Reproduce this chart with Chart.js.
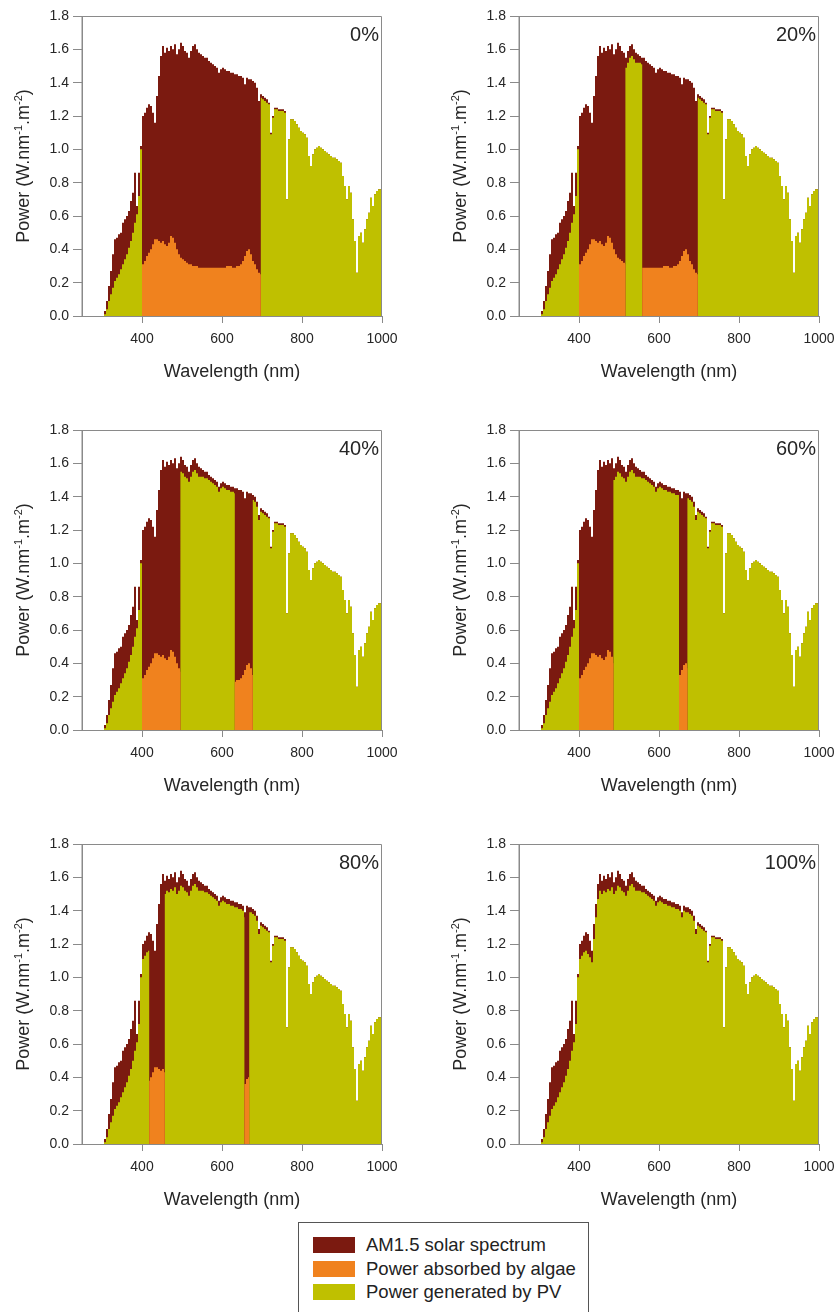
<!DOCTYPE html>
<html>
<head>
<meta charset="utf-8">
<script src="https://cdn.jsdelivr.net/npm/chart.js@4.4.1/dist/chart.umd.min.js"></script>
<style>
  html, body { margin: 0; padding: 0; background: #ffffff; }
  body { width: 837px; height: 1312px; position: relative; overflow: hidden; font-family: "Liberation Sans", Arial, sans-serif; }
  .panel { position: absolute; }
  #legend { position: absolute; left: 298px; top: 1222px; width: 289px; height: 110px; border: 1.5px solid #555; background: #fff; }
  .row { position: absolute; left: 14px; height: 16px; }
  .sw { position: absolute; left: 0; top: 0; width: 42px; height: 16px; }
  .lab { position: absolute; left: 53px; top: -3px; font-size: 18.5px; color: #222; white-space: nowrap; line-height: 22px; }
</style>
</head>
<body>
<div id="legend"></div>
<script>
// Wavelength grid (nm); each value holds from its wavelength up to the next one.
const wavelengths = [
  280, 285, 290, 295, 300, 305, 310, 315, 320, 325, 330, 335, 340, 345, 350, 355, 360, 365, 370, 375,
  380, 385, 390, 395, 400, 405, 410, 415, 420, 425, 430, 435, 440, 445, 450, 455, 460, 465, 470, 475,
  480, 485, 490, 495, 500, 505, 510, 515, 520, 525, 530, 535, 540, 545, 550, 555, 560, 565, 570, 575,
  580, 585, 590, 595, 600, 605, 610, 615, 620, 625, 630, 635, 640, 645, 650, 655, 660, 665, 670, 675,
  680, 685, 690, 695, 700, 705, 710, 715, 720, 725, 730, 735, 740, 745, 750, 755, 760, 765, 770, 775,
  780, 785, 790, 795, 800, 805, 810, 815, 820, 825, 830, 835, 840, 845, 850, 855, 860, 865, 870, 875,
  880, 885, 890, 895, 900, 905, 910, 915, 920, 925, 930, 935, 940, 945, 950, 955, 960, 965, 970, 975,
  980, 985, 990, 995, 1000
];

// AM1.5 solar spectrum (W.nm-1.m-2)
const am15 = [
  0.00, 0.00, 0.00, 0.00, 0.00, 0.03, 0.09, 0.18, 0.27, 0.37, 0.46, 0.47, 0.49, 0.50, 0.56, 0.58, 0.60, 0.63, 0.69, 0.74,
  0.86, 0.66, 0.86, 1.02, 1.20, 1.22, 1.25, 1.27, 1.26, 1.22, 1.16, 1.32, 1.44, 1.56, 1.62, 1.58, 1.61, 1.59, 1.62, 1.60,
  1.63, 1.57, 1.60, 1.64, 1.62, 1.59, 1.58, 1.55, 1.59, 1.62, 1.63, 1.60, 1.58, 1.57, 1.56, 1.55, 1.55, 1.53, 1.52, 1.51,
  1.50, 1.49, 1.46, 1.48, 1.49, 1.48, 1.47, 1.47, 1.46, 1.46, 1.45, 1.45, 1.44, 1.44, 1.43, 1.39, 1.43, 1.42, 1.42, 1.41,
  1.40, 1.37, 1.29, 1.33, 1.32, 1.31, 1.30, 1.28, 1.10, 1.20, 1.25, 1.25, 1.24, 1.24, 1.24, 1.23, 0.70, 1.06, 1.18, 1.18,
  1.17, 1.15, 1.13, 1.11, 1.10, 1.09, 1.07, 0.96, 0.90, 0.97, 1.00, 1.01, 1.02, 1.01, 1.00, 0.99, 0.98, 0.97, 0.96, 0.95,
  0.95, 0.94, 0.93, 0.92, 0.84, 0.78, 0.70, 0.78, 0.74, 0.58, 0.45, 0.26, 0.48, 0.50, 0.44, 0.52, 0.58, 0.62, 0.71, 0.66,
  0.73, 0.75, 0.76, 0.76, 0.76
];

// Power generated by PV where the panel is not covered by algae (W.nm-1.m-2)
const pvPower = [
  0.00, 0.00, 0.00, 0.00, 0.00, 0.01, 0.04, 0.09, 0.13, 0.17, 0.21, 0.23, 0.25, 0.28, 0.31, 0.34, 0.37, 0.41, 0.45, 0.50,
  0.56, 0.61, 0.72, 1.00, 1.11, 1.13, 1.15, 1.16, 1.14, 1.12, 1.09, 1.23, 1.36, 1.47, 1.52, 1.50, 1.52, 1.51, 1.53, 1.52,
  1.54, 1.50, 1.52, 1.55, 1.54, 1.52, 1.51, 1.49, 1.52, 1.55, 1.56, 1.54, 1.52, 1.52, 1.52, 1.51, 1.51, 1.50, 1.49, 1.48,
  1.47, 1.46, 1.43, 1.45, 1.46, 1.45, 1.44, 1.44, 1.43, 1.43, 1.42, 1.42, 1.41, 1.41, 1.40, 1.36, 1.40, 1.39, 1.39, 1.38,
  1.37, 1.34, 1.26, 1.31, 1.30, 1.29, 1.28, 1.27, 1.09, 1.19, 1.24, 1.24, 1.23, 1.23, 1.23, 1.22, 0.70, 1.06, 1.18, 1.18,
  1.17, 1.15, 1.13, 1.11, 1.10, 1.09, 1.07, 0.96, 0.90, 0.97, 1.00, 1.01, 1.02, 1.01, 1.00, 0.99, 0.98, 0.97, 0.96, 0.95,
  0.95, 0.94, 0.93, 0.92, 0.84, 0.78, 0.70, 0.78, 0.74, 0.58, 0.45, 0.26, 0.48, 0.50, 0.44, 0.52, 0.58, 0.62, 0.71, 0.66,
  0.73, 0.75, 0.76, 0.76, 0.76
];

// Power absorbed by algae (W.nm-1.m-2), non-zero only in the 400-700 nm band
const algaePower = [
  0, 0, 0, 0, 0, 0, 0, 0, 0, 0, 0, 0, 0, 0, 0, 0, 0, 0, 0, 0,
  0, 0, 0, 0, 0.31, 0.33, 0.36, 0.38, 0.40, 0.43, 0.46, 0.46, 0.45, 0.44, 0.45, 0.43, 0.42, 0.44, 0.48, 0.47,
  0.44, 0.40, 0.37, 0.35, 0.34, 0.33, 0.32, 0.31, 0.31, 0.30, 0.30, 0.30, 0.29, 0.29, 0.29, 0.29, 0.29, 0.29, 0.29, 0.29,
  0.29, 0.29, 0.29, 0.29, 0.29, 0.29, 0.30, 0.30, 0.30, 0.29, 0.29, 0.30, 0.30, 0.31, 0.33, 0.36, 0.39, 0.40, 0.37, 0.33,
  0.31, 0.28, 0.26, 0.25, 0, 0, 0, 0, 0, 0, 0, 0, 0, 0, 0, 0, 0, 0, 0, 0,
  0, 0, 0, 0, 0, 0, 0, 0, 0, 0, 0, 0, 0, 0, 0, 0, 0, 0, 0, 0,
  0, 0, 0, 0, 0, 0, 0, 0, 0, 0, 0, 0, 0, 0, 0, 0, 0, 0, 0, 0,
  0, 0, 0, 0, 0
];

// Panel labels and the wavelength bands [from, to) still absorbed by algae in each case
const coverageLabels = ['0%', '20%', '40%', '60%', '80%', '100%'];
const algaeBands = [
  [[400, 697]],
  [[400, 516], [558, 697]],
  [[400, 496], [632, 677]],
  [[400, 486], [650, 671]],
  [[418, 457], [656, 668]],
  []
];

const xTicks = [400, 600, 800, 1000];
const yTicks = [0, 0.2, 0.4, 0.6, 0.8, 1.0, 1.2, 1.4, 1.6, 1.8];
const seriesNames = ['AM1.5 solar spectrum', 'Power absorbed by algae', 'Power generated by PV'];
const seriesColors = ['#7b1a10', '#f0821e', '#bfc000'];

const FONT = '"Liberation Sans", Arial, sans-serif';
const TEXT = '#262626';
const AXIS = '#8a8a8a';

function heldValue(series, x) {
  for (let k = 0; k < wavelengths.length - 1; k++) {
    if (x < wavelengths[k + 1]) return series[k];
  }
  return series[series.length - 1];
}

function panelSeries(bands) {
  const edges = bands.flat();
  const xs = Array.from(new Set(wavelengths.concat(edges))).sort((a, b) => a - b);
  const inside = x => bands.some(([a, b]) => x >= a && x < b);
  const sun = [], pv = [], algae = [];
  xs.forEach(x => {
    const inBand = inside(x);
    sun.push({ x, y: heldValue(am15, x) });
    pv.push({ x, y: inBand ? 0 : heldValue(pvPower, x) });
    algae.push({ x, y: inBand ? heldValue(algaePower, x) : 0 });
  });
  return { sun, pv, algae };
}

// Titles, superscripts and the percentage label of each panel
const panelText = {
  id: 'panelText',
  afterDraw(chart, args, opts) {
    const { ctx, chartArea: a } = chart;
    ctx.save();
    ctx.fillStyle = TEXT;
    ctx.textBaseline = 'alphabetic';

    ctx.font = '18px ' + FONT;
    ctx.textAlign = 'center';
    ctx.fillText('Wavelength (nm)', (a.left + a.right) / 2, a.bottom + 61);

    ctx.textAlign = 'right';
    ctx.font = '20px ' + FONT;
    ctx.fillText(opts.label, a.right - 3, a.top + 25);

    ctx.translate(29, (a.top + a.bottom) / 2);
    ctx.rotate(-Math.PI / 2);
    const parts = [['Power (W.nm', false], ['-1', true], ['.m', false], ['-2', true], [')', false]];
    const fontOf = sup => (sup ? '11px ' : '18px ') + FONT;
    let total = 0;
    parts.forEach(([t, sup]) => { ctx.font = fontOf(sup); total += ctx.measureText(t).width; });
    let x = -total / 2;
    ctx.textAlign = 'left';
    parts.forEach(([t, sup]) => {
      ctx.font = fontOf(sup);
      ctx.fillText(t, x, sup ? -7 : 0);
      x += ctx.measureText(t).width;
    });
    ctx.restore();
  }
};

// Box around the plotting area
const frame = {
  id: 'frame',
  afterDatasetsDraw(chart) {
    const { ctx, chartArea: a } = chart;
    ctx.save();
    ctx.strokeStyle = AXIS;
    ctx.lineWidth = 1;
    ctx.beginPath();
    ctx.moveTo(a.left, a.bottom);
    ctx.lineTo(a.left, a.top + 0.5);
    ctx.lineTo(a.right - 0.5, a.top + 0.5);
    ctx.lineTo(a.right - 0.5, a.bottom);
    ctx.stroke();
    ctx.restore();
  }
};

const W = 400, H = 400;
const colLeft = [0, 437];
const rowTop = [0, 414, 828];

coverageLabels.forEach((label, i) => {
  const canvas = document.createElement('canvas');
  canvas.className = 'panel';
  canvas.width = W; canvas.height = H;
  canvas.style.left = colLeft[i % 2] + 'px';
  canvas.style.top = rowTop[Math.floor(i / 2)] + 'px';
  canvas.style.width = W + 'px'; canvas.style.height = H + 'px';
  document.body.appendChild(canvas);

  const s = panelSeries(algaeBands[i]);
  const common = { fill: 'origin', borderWidth: 0, pointRadius: 0, stepped: true };

  new Chart(canvas, {
    type: 'line',
    data: {
      datasets: [
        Object.assign({ label: seriesNames[1], data: s.algae, backgroundColor: seriesColors[1] }, common),
        Object.assign({ label: seriesNames[2], data: s.pv, backgroundColor: seriesColors[2] }, common),
        Object.assign({ label: seriesNames[0], data: s.sun, backgroundColor: seriesColors[0] }, common)
      ]
    },
    options: {
      responsive: false,
      devicePixelRatio: 1,
      animation: false,
      events: [],
      layout: { padding: { left: 0, top: 16, right: 18, bottom: 0 } },
      plugins: { legend: { display: false }, tooltip: { enabled: false }, panelText: { label } },
      scales: {
        x: {
          type: 'linear', min: 250, max: 1000,
          afterBuildTicks: sc => { sc.ticks = xTicks.map(v => ({ value: v })); },
          afterFit: sc => { sc.height = H - 316; sc.paddingLeft = 0; sc.paddingRight = 0; },
          grid: { drawOnChartArea: false, drawTicks: true, tickLength: 7, color: AXIS },
          border: { display: true, color: AXIS },
          ticks: { color: TEXT, font: { family: FONT, size: 14 }, padding: 8, maxRotation: 0, autoSkip: false, callback: v => String(v) }
        },
        y: {
          min: 0, max: 1.8,
          afterBuildTicks: sc => { sc.ticks = yTicks.map(v => ({ value: v })); },
          afterFit: sc => { sc.width = 82; sc.paddingTop = 0; sc.paddingBottom = 0; },
          grid: { drawOnChartArea: false, drawTicks: true, tickLength: 9, color: AXIS },
          border: { display: true, color: AXIS },
          ticks: { color: TEXT, font: { family: FONT, size: 14 }, padding: 4, callback: v => Number(v).toFixed(1) }
        }
      }
    },
    plugins: [frame, panelText]
  });
});

// Shared legend
const legend = document.getElementById('legend');
seriesNames.forEach((name, k) => {
  const row = document.createElement('div');
  row.className = 'row';
  row.style.top = [14, 38, 61][k] + 'px';
  const sw = document.createElement('div');
  sw.className = 'sw';
  sw.style.background = seriesColors[k];
  const lab = document.createElement('div');
  lab.className = 'lab';
  lab.textContent = name;
  row.appendChild(sw); row.appendChild(lab);
  legend.appendChild(row);
});
</script>
</body>
</html>
